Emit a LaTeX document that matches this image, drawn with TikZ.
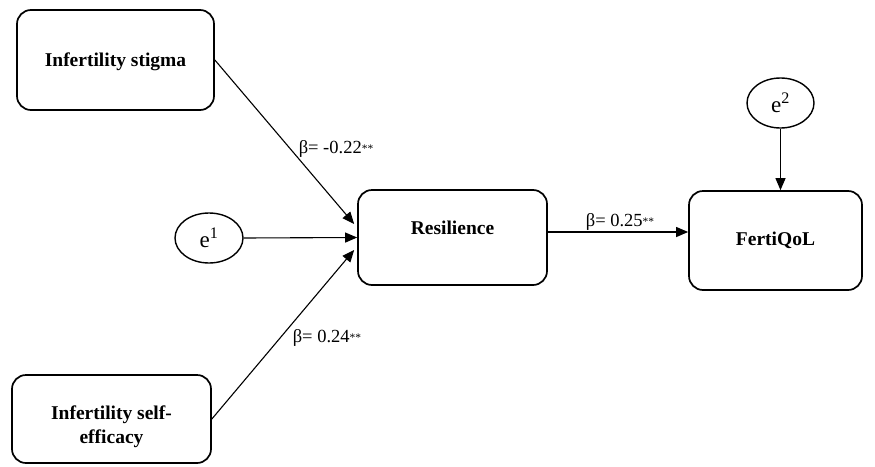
\documentclass[tikz,border=0pt]{standalone}
\usepackage{fontspec}
\setmainfont{Liberation Serif}
\usetikzlibrary{arrows.meta,shapes.geometric}
\newcommand{\sigstars}{\raisebox{1.5pt}{\fontsize{11.5}{11.5}\selectfont**}}
\begin{document}
\begin{tikzpicture}[x=1pt,y=-1pt,
 box/.style={draw,line width=1.7pt,rounded corners=14pt,inner sep=0pt},
 boxtext/.style={font=\fontsize{19.5}{24}\selectfont\bfseries,align=center,inner sep=0pt},
 err/.style={draw,ellipse,line width=1.4pt,font=\fontsize{23}{26}\selectfont,inner sep=0pt,minimum width=68pt,minimum height=50pt},
 arr/.style={line width=1.1pt,-{Triangle[length=12pt,width=10pt]}},
 coef/.style={font=\fontsize{18.5}{21}\selectfont,inner sep=0pt}]
\useasboundingbox (0,0) rectangle (875,466);

\node[box,minimum width=197pt,minimum height=100pt] (stig) at (115.5,60) {};
\node[boxtext] (stigtext) at ([yshift=-1.5pt]stig.center) {Infertility stigma};

\node[box,minimum width=199pt,minimum height=88pt] (self) at (111.5,419) {};
\node[boxtext] (selftext) at ([yshift=-8pt]self.center) {Infertility self-\\efficacy};

\node[box,minimum width=189pt,minimum height=95pt] (res) at (452.5,237.5) {};
\node[boxtext] (restext) at ([yshift=10pt]res.center) {Resilience};

\node[box,minimum width=173pt,minimum height=99pt] (fq) at (775.5,240.5) {};
\node[boxtext] (fqtext) at (fq.center) {FertiQoL};

\node[err] (e1) at (209,238) {e\textsuperscript{1}};
\node[err,minimum width=67pt] (e2) at (780.5,103) {e\textsuperscript{2}};

\coordinate (stigend) at ([xshift=-3pt,yshift=13.5pt]res.west);
\coordinate (selfend) at ([xshift=-3pt,yshift=-12.5pt]res.west);
\coordinate (resout) at ([yshift=5.5pt]res.east);

\draw[arr] (stig.east) -- (stigend);
\draw[arr] (e1.east) -- (res.west);
\draw[arr] (self.east) -- (selfend);
\draw[arr] (resout) -- (resout -| fq.west);
\draw[arr] (e2.south) -- (e2.south |- fq.north);

\node[coef] (c1) at (336,149) {β= -0.22\sigstars};
\node[coef] (c2) at (327,338) {β= 0.24\sigstars};
\node[coef] (c3) at (620,222) {β= 0.25\sigstars};
\end{tikzpicture}
\end{document}
